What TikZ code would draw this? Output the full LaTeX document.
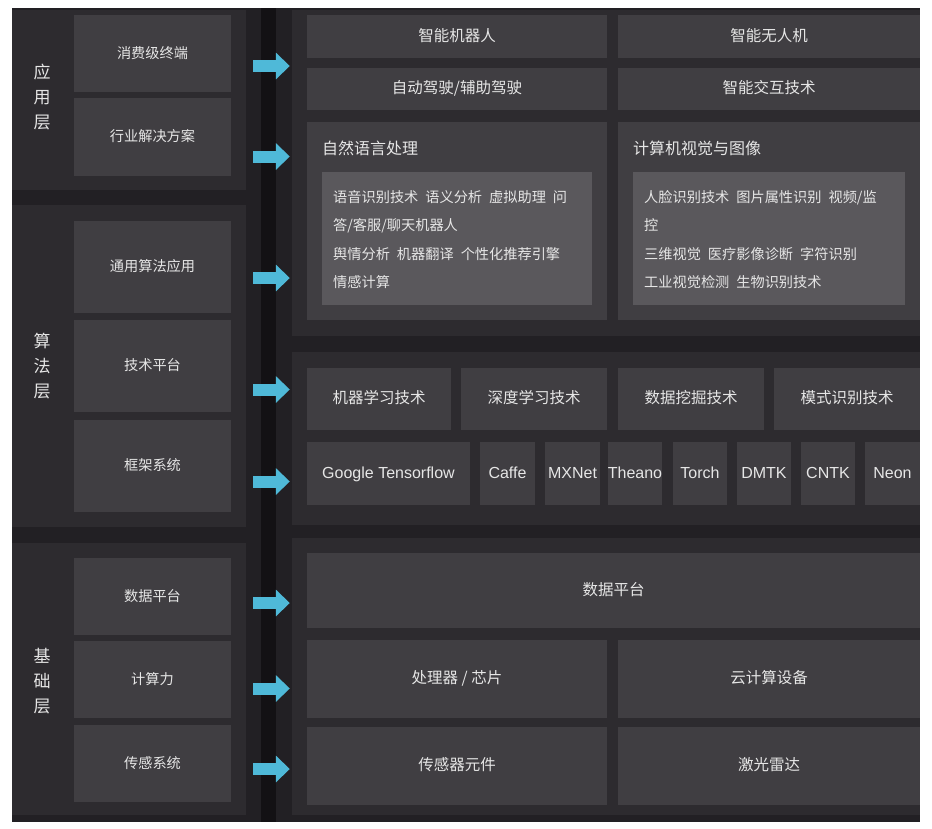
\documentclass[tikz,border=0pt]{standalone}
\usepackage{fontspec}
\setmainfont{Noto Sans CJK SC}
\newfontfamily\latinfont{Liberation Sans}
\usetikzlibrary{arrows.meta}

\definecolor{bgdark}{HTML}{222024}
\definecolor{stripdark}{HTML}{131114}
\definecolor{panelgray}{HTML}{2D2B2F}
\definecolor{tilegray}{HTML}{403E42}
\definecolor{itemgray}{HTML}{5A585C}
\definecolor{labelwhite}{HTML}{E6E6E6}
\definecolor{flowcyan}{HTML}{4FB9D8}

\begin{document}
\begin{tikzpicture}[x=1pt, y=-1pt,
    panel/.style 2 args={fill=panelgray, inner sep=0pt,
        minimum width=#1pt, minimum height=#2pt},
    tile/.style 2 args={fill=tilegray, text=labelwhite, inner sep=0pt,
        minimum width=#1pt, minimum height=#2pt,
        text height=0.95em, text depth=0.05em,
        font=\fontsize{15.5}{18}\selectfont},
    sidetile/.style 2 args={tile={#1}{#2},
        font=\fontsize{14.2}{16}\selectfont},
    fwtile/.style 2 args={tile={#1}{#2},
        font=\latinfont\fontsize{16}{19}\selectfont},
    itembox/.style 2 args={fill=itemgray, inner sep=0pt,
        minimum width=#1pt, minimum height=#2pt},
    layer/.style={text=labelwhite, align=center, inner sep=0pt,
        font=\fontsize{17}{25}\selectfont},
    heading/.style={text=labelwhite, anchor=west, inner sep=0pt,
        font=\fontsize{16}{19}\selectfont},
    items/.style={text=labelwhite, anchor=north west, align=left,
        inner sep=0pt, font=\fontsize{14.2}{28.5}\selectfont},
    flow/.style={draw=flowcyan, line width=12pt,
        -{Triangle[length=14pt, width=26pt]},
        shorten <=7pt, shorten >=2pt},
]

% === Page and background ===
\useasboundingbox (0,0) rectangle (932,828);
\fill[white] (0,0) rectangle (932,828);
\fill[bgdark] (12,8) rectangle (920,822);
\fill[stripdark] (261,8) rectangle (276,822);

% === Layer panels ===
\node[panel={234}{180}] (appL) at (129,100) {};
\node[panel={234}{322}] (algL) at (129,366) {};
\node[panel={234}{272}] (baseL) at (129,679) {};

\node[panel={628}{326}] (appR) at (606,173) {};
\node[panel={628}{173}] (algR) at (606,438.5) {};
\node[panel={628}{277}] (baseR) at (606,676.5) {};

% === Layer names ===
\node[layer] (appName) at (42,97) {应\\用\\层};
\node[layer] (algName) at (42,366) {算\\法\\层};
\node[layer] (baseName) at (42,681) {基\\础\\层};

% === Left column ===
\def\colL{152.5}
\node[sidetile={157}{77}] (consumer) at (\colL,53.5) {消费级终端};
\node[sidetile={157}{78}] (industry) at (\colL,137) {行业解决方案};
\node[sidetile={157}{92}] (general) at (\colL,267) {通用算法应用};
\node[sidetile={157}{92}] (techplat) at (\colL,366) {技术平台};
\node[sidetile={157}{92}] (framesys) at (\colL,466) {框架系统};
\node[sidetile={157}{77}] (dataL) at (\colL,596.5) {数据平台};
\node[sidetile={157}{77}] (compute) at (\colL,679.5) {计算力};
\node[sidetile={157}{77}] (sensing) at (\colL,763.5) {传感系统};

% === Application layer (right) ===
\def\colA{457}
\def\colB{769}
\node[tile={300}{43}] (robot) at (\colA,36.5) {智能机器人};
\node[tile={302}{43}] (drone) at (\colB,36.5) {智能无人机};
\node[tile={300}{42}] (driving) at (\colA,89) {自动驾驶/辅助驾驶};
\node[tile={302}{42}] (interact) at (\colB,89) {智能交互技术};

% NLP / CV blocks
\node[tile={300}{198}] (nlp) at (\colA,221) {};
\node[tile={302}{198}] (cv) at (\colB,221) {};
\node[itembox={270}{133}] (nlpItems) at (\colA,238.5) {};
\node[itembox={272}{133}] (cvItems) at (\colB,238.5) {};

\node[heading] (nlpTitle) at (322,148) {自然语言处理};
\node[heading] (cvTitle) at (633,148) {计算机视觉与图像};

\node[items] (nlpText) at (333,190)
    {语音识别技术\hspace{7pt}语义分析\hspace{7pt}虚拟助理\hspace{7pt}问\\
     答/客服/聊天机器人\\
     舆情分析\hspace{7pt}机器翻译\hspace{7pt}个性化推荐引擎\\
     情感计算};
\node[items] (cvText) at (644,190)
    {人脸识别技术\hspace{7pt}图片属性识别\hspace{7pt}视频/监\\
     控\\
     三维视觉\hspace{7pt}医疗影像诊断\hspace{7pt}字符识别\\
     工业视觉检测\hspace{7pt}生物识别技术};

% === Algorithm layer (right) ===
\def\rowT{399}
\node[tile={144}{62}] (ml) at (379,\rowT) {机器学习技术};
\node[tile={146}{62}] (dl) at (534,\rowT) {深度学习技术};
\node[tile={146}{62}] (dm) at (691,\rowT) {数据挖掘技术};
\node[tile={146}{62}] (pr) at (847,\rowT) {模式识别技术};

\def\rowF{473.5}
\node[fwtile={163}{63}] (tensorflow) at (388.5,\rowF) {Google Tensorflow};
\node[fwtile={55}{63}] (caffe) at (507.5,\rowF) {Caffe};
\node[fwtile={55}{63}] (mxnet) at (572.5,\rowF) {MXNet};
\node[fwtile={54}{63}] (theano) at (635,\rowF) {Theano};
\node[fwtile={54}{63}] (torch) at (700,\rowF) {Torch};
\node[fwtile={54}{63}] (dmtk) at (764,\rowF) {DMTK};
\node[fwtile={54}{63}] (cntk) at (828,\rowF) {CNTK};
\node[fwtile={55}{63}] (neon) at (892.5,\rowF) {Neon};

% === Base layer (right) ===
\node[tile={613}{75}] (dataR) at (613.5,590.5) {数据平台};
\node[tile={300}{78}] (chip) at (\colA,679) {处理器 / 芯片};
\node[tile={302}{78}] (cloud) at (\colB,679) {云计算设备};
\node[tile={300}{78}] (sensor) at (\colA,766) {传感器元件};
\node[tile={302}{78}] (lidar) at (\colB,766) {激光雷达};

% === Arrows ===
\draw[flow] (appL.east |- 0,66) -- (appR.west |- 0,66);
\draw[flow] (appL.east |- 0,156.5) -- (appR.west |- 0,156.5);
\draw[flow] (algL.east |- 0,278) -- (appR.west |- 0,278);
\draw[flow] (algL.east |- 0,389.5) -- (algR.west |- 0,389.5);
\draw[flow] (algL.east |- 0,481.5) -- (algR.west |- 0,481.5);
\draw[flow] (baseL.east |- 0,603) -- (baseR.west |- 0,603);
\draw[flow] (baseL.east |- 0,688.5) -- (baseR.west |- 0,688.5);
\draw[flow] (baseL.east |- 0,769) -- (baseR.west |- 0,769);

\end{tikzpicture}
\end{document}
